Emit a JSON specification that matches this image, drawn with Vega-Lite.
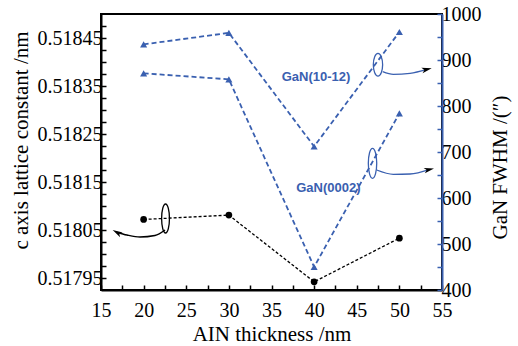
{
  "$schema": "https://vega.github.io/schema/vega-lite/v6.json",
  "width": 341,
  "height": 276,
  "autosize": {"type": "none"},
  "padding": {"left": 101, "top": 14, "right": 76, "bottom": 56},
  "background": "white",
  "config": {
    "view": {"stroke": "black", "strokeWidth": 2},
    "font": "Liberation Serif",
    "axis": {
      "grid": false,
      "domainColor": "black",
      "domainWidth": 2,
      "tickColor": "black",
      "tickWidth": 1.5,
      "tickSize": -5,
      "labelPadding": 4,
      "labelFont": "Liberation Serif",
      "labelFontSize": 20,
      "labelColor": "black",
      "titleFont": "Liberation Serif",
      "titleFontSize": 21,
      "titleFontWeight": "normal",
      "titleColor": "black"
    }
  },
  "datasets": {
    "lat": [
      {"t": 20, "v": 0.518072},
      {"t": 30, "v": 0.518081},
      {"t": 40, "v": 0.517942},
      {"t": 50, "v": 0.518033}
    ],
    "fwhm": [
      {"t": 20, "v": 934, "s": "GaN(10-12)"},
      {"t": 30, "v": 959, "s": "GaN(10-12)"},
      {"t": 40, "v": 712, "s": "GaN(10-12)"},
      {"t": 50, "v": 961, "s": "GaN(10-12)"},
      {"t": 20, "v": 871, "s": "GaN(0002)"},
      {"t": 30, "v": 858, "s": "GaN(0002)"},
      {"t": 40, "v": 450, "s": "GaN(0002)"},
      {"t": 50, "v": 784, "s": "GaN(0002)"}
    ],
    "ell1": [{"t": 22.57, "v": 0.518074}],
    "curve1": [
      {"t": 22.51, "v": 0.51805},
      {"t": 21.33, "v": 0.5180385},
      {"t": 19.57, "v": 0.5180354},
      {"t": 18.05, "v": 0.5180396},
      {"t": 16.88, "v": 0.518045}
    ],
    "arrow1": [{"t": 16.88, "v": 0.518045}],
    "ell2": [{"t": 47.49, "v": 889.8}],
    "ell3": [{"t": 46.85, "v": 675.4}],
    "curve2": [
      {"t": 48.04, "v": 874.6},
      {"t": 49.29, "v": 868.9},
      {"t": 51.25, "v": 871},
      {"t": 53.22, "v": 879.6}
    ],
    "curve3": [
      {"t": 47.34, "v": 660.9},
      {"t": 49.29, "v": 651.5},
      {"t": 51.25, "v": 652.2},
      {"t": 53.49, "v": 661.9}
    ],
    "arrows23": [{"t": 53.22, "v": 879.6}, {"t": 53.49, "v": 661.9}],
    "labels": [
      {"t": 40.22, "v": 863, "label": "GaN(10-12)"},
      {"t": 41.67, "v": 621, "label": "GaN(0002)"}
    ]
  },
  "encoding": {
    "x": {
      "field": "t",
      "type": "quantitative",
      "scale": {"domain": [15, 55], "nice": false, "zero": false},
      "axis": {
        "title": "AIN thickness /nm",
        "titlePadding": 3,
        "labelPadding": 15,
        "values": [15, 17.5, 20, 22.5, 25, 27.5, 30, 32.5, 35, 37.5, 40, 42.5, 45, 47.5, 50, 52.5, 55],
        "labelExpr": "datum.value % 5 === 0 ? datum.label : ''",
        "labelFlush": false,
        "labelOverlap": false
      }
    }
  },
  "layer": [
    {
      "encoding": {
        "y": {
          "field": "v",
          "type": "quantitative",
          "scale": {"domain": [0.517925, 0.5185], "nice": false, "zero": false},
          "axis": {
            "title": "c axis lattice constant /nm",
            "titlePadding": 6,
            "titleY": 126,
            "values": [0.51795, 0.517975, 0.518, 0.518025, 0.51805, 0.518075, 0.5181, 0.518125, 0.51815, 0.518175, 0.5182, 0.518225, 0.51825, 0.518275, 0.5183, 0.518325, 0.51835, 0.518375, 0.5184, 0.518425, 0.51845, 0.518475],
            "labelExpr": "abs(round(datum.value * 1000000) % 100 - 50) < 1 ? format(datum.value, '.5f') : ''",
            "labelOverlap": false
          }
        }
      },
      "layer": [
        {
          "data": {"name": "lat"},
          "mark": {"type": "line", "color": "black", "strokeWidth": 1.3, "strokeDash": [3, 2]}
        },
        {
          "data": {"name": "lat"},
          "mark": {"type": "point", "shape": "circle", "filled": true, "color": "black", "size": 45, "opacity": 1}
        },
        {
          "data": {"name": "ell1"},
          "mark": {
            "type": "point",
            "shape": "M0,-1 C0.149,-1 0.27,-0.552 0.27,0 C0.27,0.552 0.149,1 0,1 C-0.149,1 -0.27,0.552 -0.27,0 C-0.27,-0.552 -0.149,-1 0,-1 Z",
            "filled": false,
            "stroke": "black",
            "strokeWidth": 1.3,
            "size": 841,
            "opacity": 1
          }
        },
        {
          "data": {"name": "curve1"},
          "mark": {"type": "line", "color": "black", "strokeWidth": 1.5, "interpolate": "monotone"}
        },
        {
          "data": {"name": "arrow1"},
          "mark": {
            "type": "point",
            "shape": "M1,0 L-1,-0.55 L-0.5,0 L-1,0.55 Z",
            "filled": true,
            "color": "black",
            "size": 100,
            "angle": 209,
            "opacity": 1
          }
        }
      ]
    },
    {
      "encoding": {
        "y": {
          "field": "v",
          "type": "quantitative",
          "scale": {"domain": [400, 1000], "nice": false, "zero": false},
          "axis": {
            "orient": "right",
            "title": "GaN FWHM /(″)",
            "titleAngle": -90,
            "titleBaseline": "top",
            "titlePadding": 8,
            "titleY": 153,
            "domainColor": "#3a60b0",
            "tickColor": "#3a60b0",
            "values": [400, 450, 500, 550, 600, 650, 700, 750, 800, 850, 900, 950, 1000],
            "labelExpr": "datum.value % 100 === 0 ? datum.label : ''",
            "format": "d",
            "labelOverlap": false,
            "labelFlush": false
          }
        }
      },
      "layer": [
        {
          "data": {"name": "fwhm"},
          "mark": {"type": "line", "color": "#3a60b0", "strokeWidth": 1.8, "strokeDash": [5, 3]},
          "encoding": {"detail": {"field": "s"}}
        },
        {
          "data": {"name": "fwhm"},
          "mark": {"type": "point", "shape": "triangle-up", "filled": true, "color": "#3a60b0", "size": 50, "opacity": 1}
        },
        {
          "data": {"name": "ell2"},
          "mark": {
            "type": "point",
            "shape": "M0,-1 C0.226,-1 0.41,-0.552 0.41,0 C0.41,0.552 0.226,1 0,1 C-0.226,1 -0.41,0.552 -0.41,0 C-0.41,-0.552 -0.226,-1 0,-1 Z",
            "filled": false,
            "stroke": "#3a60b0",
            "strokeWidth": 1.3,
            "size": 515,
            "opacity": 1
          }
        },
        {
          "data": {"name": "ell3"},
          "mark": {
            "type": "point",
            "shape": "M0,-1 C0.155,-1 0.28,-0.552 0.28,0 C0.28,0.552 0.155,1 0,1 C-0.155,1 -0.28,0.552 -0.28,0 C-0.28,-0.552 -0.155,-1 0,-1 Z",
            "filled": false,
            "stroke": "#3a60b0",
            "strokeWidth": 1.3,
            "size": 900,
            "opacity": 1
          }
        },
        {
          "data": {"name": "curve2"},
          "mark": {"type": "line", "color": "#3a60b0", "strokeWidth": 1.3, "interpolate": "monotone"}
        },
        {
          "data": {"name": "curve3"},
          "mark": {"type": "line", "color": "#3a60b0", "strokeWidth": 1.3, "interpolate": "monotone"}
        },
        {
          "data": {"name": "arrows23"},
          "mark": {
            "type": "point",
            "shape": "M1,0 L-1,-0.55 L-0.5,0 L-1,0.55 Z",
            "filled": true,
            "color": "black",
            "size": 100,
            "angle": -13,
            "opacity": 1
          }
        },
        {
          "data": {"name": "labels"},
          "mark": {"type": "text", "font": "Liberation Sans", "fontWeight": "bold", "fontSize": 13, "color": "#3a60b0"},
          "encoding": {"text": {"field": "label"}}
        }
      ]
    }
  ],
  "resolve": {"scale": {"y": "independent"}}
}
